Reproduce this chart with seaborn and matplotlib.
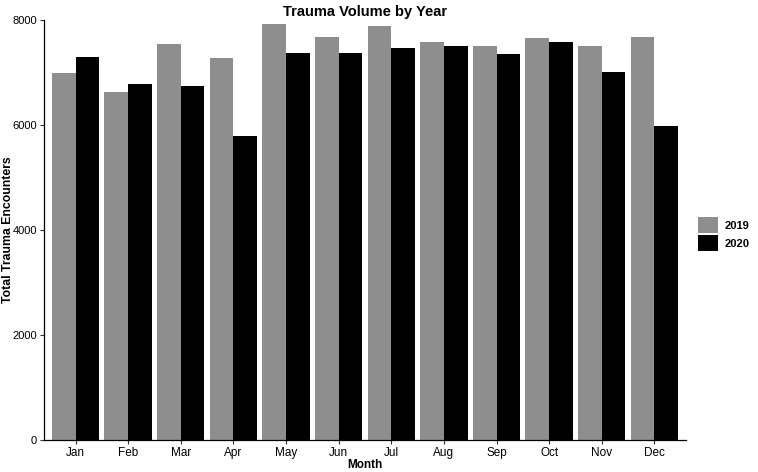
'''
Trauma volume by month, 2019 vs 2020
'''
import seaborn as sns
import pandas as pd
import matplotlib.pyplot as plt

months = ['Jan', 'Feb', 'Mar', 'Apr', 'May', 'Jun', 'Jul', 'Aug', 'Sep', 'Oct', 'Nov', 'Dec']
vol_2019 = [6995, 6625, 7535, 7270, 7925, 7675, 7890, 7575, 7510, 7645, 7510, 7675]
vol_2020 = [7285, 6775, 6735, 5785, 7370, 7365, 7470, 7495, 7345, 7580, 7000, 5980]
years = ['2019', '2020']

data = pd.DataFrame({
    'Month': months * 2,
    'Year': [years[0]] * 12 + [years[1]] * 12,
    'Encounters': vol_2019 + vol_2020,
})

sns.set_style('white')
plt.rcParams['font.family'] = ['Liberation Sans', 'DejaVu Sans']
plt.rcParams.update({'text.color': 'black', 'axes.labelcolor': 'black',
                     'xtick.color': 'black', 'ytick.color': 'black'})

fig = plt.figure(figsize=(7.58, 4.72), dpi=100)
ax = fig.add_axes([0.058, 0.068, 0.847, 0.89])

sns.barplot(data=data, x='Month', y='Encounters', hue='Year', order=months,
            hue_order=years, palette={'2019': '#8e8e8e', '2020': '#000000'},
            width=0.9, gap=0, saturation=1, linewidth=0, ax=ax, legend=True)

ax.set_xlim(-0.6, 11.6)
ax.set_ylim(0, 8000)
ax.set_yticks([0, 2000, 4000, 6000, 8000])
ax.set_title('Trauma Volume by Year', fontsize=10.5, fontweight='bold', pad=3)
ax.set_xlabel('Month', fontsize=8.5, fontweight='bold', labelpad=0)
ax.set_ylabel('Total Trauma Encounters', fontsize=8.8, fontweight='bold')
ax.yaxis.set_label_coords(-0.046, 0.5)
ax.tick_params(axis='x', labelsize=8.5, length=3, width=0.8, color='#333333',
               bottom=True, pad=2)
ax.tick_params(axis='y', labelsize=8, length=3, width=0.8, color='#333333',
               left=True, pad=2)
sns.despine(ax=ax)
for s in ['left', 'bottom']:
    ax.spines[s].set_color('black')
    ax.spines[s].set_linewidth(0.9)

handles, labels = ax.get_legend_handles_labels()
ax.legend(handles, labels, loc='center left', bbox_to_anchor=(1.012, 0.49),
          frameon=False, handlelength=1.75, handleheight=1.9, handletextpad=0.65,
          labelspacing=0.15, borderaxespad=0,
          prop={'size': 8, 'weight': 'bold'})

fig.savefig('out.png', dpi=100)
